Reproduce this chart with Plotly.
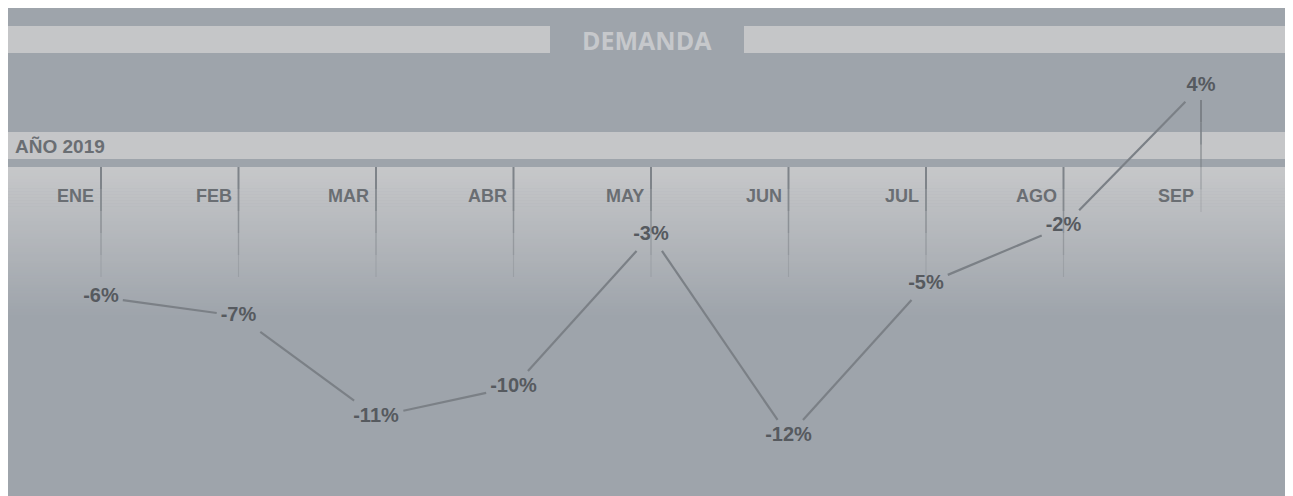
import plotly.graph_objects as go

# ---------------- data ----------------
months = ["ENE", "FEB", "MAR", "ABR", "MAY", "JUN", "JUL", "AGO", "SEP"]
demand_change = [-5.71, -6.58, -11.21, -9.85, -2.85, -12.10, -5.11, -2.45, 4.02]
title_text = "DEMANDA"
year_label = "AÑO 2019"

# ---------------- layout constants ----------------
W, H = 1285, 488          # figure size (page has 8px body margin)
OX, OY = 8, 8

DARK = "#9ea4ab"
LIGHT = "#c5c6c8"
LINE = "#7b8086"
MONTH_TXT = "#6a6e73"
VAL_TXT = "#565a5f"


def px(X):
    return (X - OX) / W


def py(Y):
    return 1 - (Y - OY) / H


ZERO_Y = 165   # figure pixel row of 0 %
X_RANGE = [-93 / 137.5, (W - 93) / 137.5]
Y_RANGE = [(ZERO_Y - H) / 21.73, ZERO_Y / 21.73]
sx = W / (X_RANGE[1] - X_RANGE[0])
sy = H / (Y_RANGE[1] - Y_RANGE[0])

labels = [f"{round(v)}%" for v in demand_change]
CHAR_W = {"-": 6.7, "%": 17.8}


def half_w(s):
    return sum(CHAR_W.get(c, 11.1) for c in s) / 2 + 4


HH = 16

# clipped connecting segments (gaps around labels)
seg_x, seg_y = [], []
for k in range(len(months) - 1):
    v0, v1 = demand_change[k], demand_change[k + 1]
    dx, dy = sx, (v1 - v0) * sy

    def tbox(hw):
        a = hw / abs(dx) if dx else float("inf")
        b = HH / abs(dy) if dy else float("inf")
        return min(a, b)

    t0 = tbox(half_w(labels[k]))
    t1 = 1 - tbox(half_w(labels[k + 1]))
    if t1 > t0:
        seg_x += [k + t0, k + t1, None]
        seg_y += [v0 + t0 * (v1 - v0), v0 + t1 * (v1 - v0), None]

shapes = []


def rect(X0, Y0, X1, Y1, color):
    shapes.append(dict(type="rect", xref="paper", yref="paper",
                       x0=px(X0), x1=px(X1), y0=py(Y1), y1=py(Y0),
                       fillcolor=color, line=dict(width=0), layer="below"))


# bands
rect(7, 26, 550, 53, LIGHT)
rect(744, 26, 1287, 53, LIGHT)
rect(7, 132, 1287, 159, LIGHT)

# gradient area
c0 = (198, 199, 201)
c1 = (158, 164, 171)
G0, G1, N = 167, 318, 50
for j in range(N):
    t = j / (N - 1)
    col = "rgb(%d,%d,%d)" % tuple(round(c0[m] + (c1[m] - c0[m]) * t) for m in range(3))
    ya = G0 + (G1 - G0) * j / N
    yb = G0 + (G1 - G0) * (j + 1) / N + 0.6
    rect(7, ya, 1287, yb, col)

# right light strip
rect(1287, 0, 1300, 500, LIGHT)

# month guide lines (fading)
GUIDE_SPANS = [(167, 277)] * 8 + [(100, 212)]
fade_op = [0.95, 0.85, 0.7, 0.5, 0.3]
fade_w = [2.0, 1.8, 1.5, 1.3, 1.1]
for i, (gt, gb) in enumerate(GUIDE_SPANS):
    n = len(fade_op)
    for s in range(n):
        ya = gt + (gb - gt) * s / n
        yb = gt + (gb - gt) * (s + 1) / n
        shapes.append(dict(type="line", xref="x", yref="paper",
                           x0=i, x1=i, y0=py(ya), y1=py(yb),
                           line=dict(color=LINE, width=fade_w[s]),
                           opacity=fade_op[s], layer="below"))

annotations = [
    dict(text=title_text, xref="paper", yref="paper", x=px(647), y=py(40),
         xanchor="center", yanchor="middle", showarrow=False,
         font=dict(family="Open Sans", size=25, color="#c6c8cb", weight="bold")),
    dict(text=year_label, xref="paper", yref="paper", x=px(13), y=py(146),
         xanchor="left", yanchor="middle", showarrow=False,
         font=dict(family="Liberation Sans", size=19, color=MONTH_TXT, weight="bold")),
]
for i, m in enumerate(months):
    annotations.append(dict(text=m, xref="x", yref="paper", x=i, y=py(196),
                            xanchor="right", yanchor="middle", xshift=-5,
                            showarrow=False,
                            font=dict(family="Liberation Sans", size=18,
                                      color=MONTH_TXT, weight="bold")))

fig = go.Figure()
fig.add_trace(go.Scatter(x=seg_x, y=seg_y, mode="lines",
                         line=dict(color=LINE, width=2.2),
                         hoverinfo="skip", showlegend=False))
fig.add_trace(go.Scatter(x=list(range(len(months))), y=demand_change, mode="text",
                         text=labels, textposition="middle center",
                         textfont=dict(family="Liberation Sans", size=20,
                                       color=VAL_TXT, weight="bold"),
                         hoverinfo="skip", showlegend=False))

fig.update_layout(
    width=W, height=H, autosize=False,
    margin=dict(l=0, r=0, t=0, b=0, pad=0),
    paper_bgcolor=DARK, plot_bgcolor="rgba(0,0,0,0)",
    xaxis=dict(range=X_RANGE, visible=False, fixedrange=True),
    yaxis=dict(range=Y_RANGE, visible=False, fixedrange=True),
    shapes=shapes, annotations=annotations, showlegend=False,
)

fig.write_html("out.html", config={"displayModeBar": False})
